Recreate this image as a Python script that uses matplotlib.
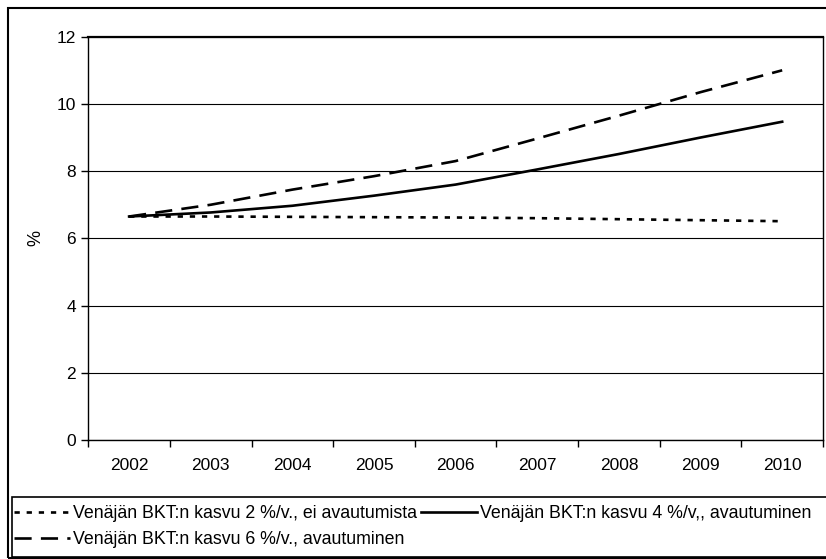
import matplotlib.pyplot as plt
from matplotlib.patches import Rectangle
import numpy as np

plt.rcParams["font.family"] = ["Liberation Sans", "DejaVu Sans"]

# Data
years = ["2002", "2003", "2004", "2005", "2006", "2007", "2008", "2009", "2010"]
kasvu2 = [6.65, 6.65, 6.64, 6.63, 6.62, 6.60, 6.57, 6.54, 6.51]
kasvu4 = [6.65, 6.77, 6.97, 7.27, 7.60, 8.05, 8.51, 9.00, 9.47]
kasvu6 = [6.65, 7.00, 7.45, 7.85, 8.30, 8.97, 9.65, 10.35, 11.00]
labels = ["Venäjän BKT:n kasvu 2 %/v., ei avautumista",
          "Venäjän BKT:n kasvu 4 %/v,, avautuminen",
          "Venäjän BKT:n kasvu 6 %/v., avautuminen"]

W, H = 826, 559
fig = plt.figure(figsize=(W / 100, H / 100), dpi=100)
ax = fig.add_axes([88.3 / W, 1 - 440 / H, (823 - 88.3) / W, (440 - 36.7) / H])

x = np.arange(len(years))
l1, = ax.plot(x, kasvu2, color="black", lw=1.9, dashes=(2, 2.6))
l2, = ax.plot(x, kasvu4, color="black", lw=1.9)
l3, = ax.plot(x, kasvu6, color="black", lw=1.9, dashes=(6.5, 3.5))

ax.set_xlim(-0.5, len(years) - 0.5)
ax.set_ylim(0, 12)
ax.set_yticks(np.arange(0, 13, 2))
ax.set_xticks(x)
ax.set_xticklabels(years)
ax.set_xticks(np.arange(-0.5, len(years), 1), minor=True)
ax.tick_params(axis="x", which="major", length=0, labelsize=12.5, pad=13)
ax.tick_params(axis="x", which="minor", length=5, direction="out", width=1)
ax.tick_params(axis="y", length=5, direction="out", width=1, labelsize=12.5, pad=4)
ax.yaxis.grid(True, color="black", lw=0.8)
ax.set_axisbelow(True)
for s in ax.spines.values():
    s.set_linewidth(1)
ax.spines["top"].set_linewidth(1.6)
ax.set_ylabel("%", fontsize=13, labelpad=9)

leg = fig.legend([l1, l3, l2], [labels[0], labels[2], labels[1]], ncol=2,
                 loc="upper left", bbox_to_anchor=(14 / W, 1 - 505 / H),
                 fontsize=12.8, frameon=False,
                 handlelength=3.15, handletextpad=0.17, columnspacing=0.25,
                 labelspacing=0.5, borderpad=0, borderaxespad=0)

# legend frame and outer chart border (right side runs past the image edge)
fig.patches.append(Rectangle((12 / W, 2 / H), 830 / W, 60 / H, transform=fig.transFigure,
                             fill=False, edgecolor="black", lw=1.2))
fig.patches.append(Rectangle((8 / W, 1.5 / H), 830 / W, 549.5 / H, transform=fig.transFigure,
                             fill=False, edgecolor="black", lw=1.5))

fig.savefig("out.png", dpi=100)
